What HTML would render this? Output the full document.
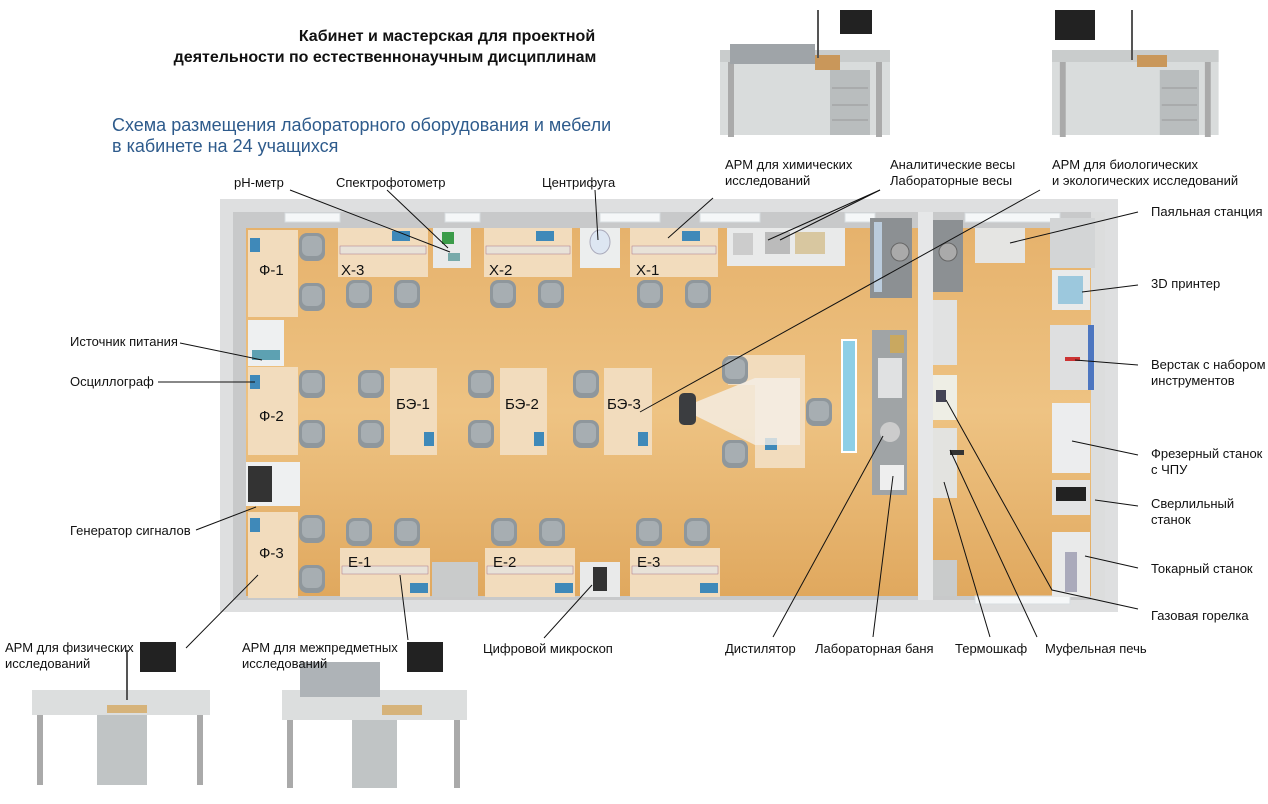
<!DOCTYPE html>
<html><head><meta charset="utf-8"><style>
body{margin:0;background:#fff;width:1268px;height:799px;overflow:hidden}
svg text{font-family:"Liberation Sans",sans-serif}
</style></head><body>
<svg width="1268" height="799" viewBox="0 0 1268 799" xmlns="http://www.w3.org/2000/svg">
<defs>
<linearGradient id="fl" x1="0" y1="0" x2="0" y2="1"><stop offset="0" stop-color="#e6b26c"/><stop offset="0.5" stop-color="#eec383"/><stop offset="1" stop-color="#e0a85e"/></linearGradient>
<g id="chair"><rect x="0" y="0" width="26" height="28" rx="8" fill="#8f979c"/><rect x="3" y="3" width="20" height="20" rx="6" fill="#a7aeb2"/></g>
<g id="desk"><rect x="0" y="0" width="170" height="85" fill="#d9dcdc"/><rect x="0" y="0" width="170" height="12" fill="#c9cccc"/><rect x="110" y="20" width="40" height="65" fill="#b9bdbe"/><line x1="112" y1="38" x2="148" y2="38" stroke="#999"/><line x1="112" y1="55" x2="148" y2="55" stroke="#999"/><line x1="112" y1="70" x2="148" y2="70" stroke="#999"/><rect x="8" y="12" width="6" height="75" fill="#aaa"/><rect x="156" y="12" width="6" height="75" fill="#aaa"/></g>
</defs>
<!-- titles -->
<text x="447" y="41" font-size="16" font-weight="bold" text-anchor="middle" fill="#111">Кабинет и мастерская для проектной</text>
<text x="385" y="62" font-size="16" font-weight="bold" text-anchor="middle" fill="#111">деятельности по естественнонаучным дисциплинам</text>
<text x="112" y="131" font-size="18" fill="#2e5b8c">Схема размещения лабораторного оборудования и мебели</text>
<text x="112" y="152" font-size="18" fill="#2e5b8c">в кабинете на 24 учащихся</text>

<!-- photos top -->
<g transform="translate(720,50)"><use href="#desk"/><rect x="10" y="-6" width="85" height="20" fill="#9fa4a8"/><rect x="95" y="5" width="25" height="15" fill="#c9975a"/><rect x="120" y="-40" width="32" height="24" fill="#222"/><line x1="98" y1="-40" x2="98" y2="8" stroke="#555" stroke-width="2"/></g>
<g transform="translate(1052,50)"><use href="#desk" transform="scale(0.98,1)"/><rect x="3" y="-40" width="40" height="30" fill="#222"/><rect x="85" y="5" width="30" height="12" fill="#c9975a"/><line x1="80" y1="-40" x2="80" y2="10" stroke="#555" stroke-width="2"/></g>
<g transform="translate(32,690)"><rect x="0" y="0" width="178" height="25" fill="#dcdede"/><rect x="65" y="25" width="50" height="70" fill="#c0c4c5"/><rect x="5" y="25" width="6" height="70" fill="#aaa"/><rect x="165" y="25" width="6" height="70" fill="#aaa"/><rect x="75" y="15" width="40" height="8" fill="#d6b37a"/><rect x="108" y="-48" width="36" height="30" fill="#222"/><line x1="95" y1="-40" x2="95" y2="10" stroke="#555" stroke-width="2"/></g>
<g transform="translate(282,690)"><rect x="0" y="0" width="185" height="30" fill="#dcdede"/><rect x="18" y="-28" width="80" height="35" fill="#aeb3b7"/><rect x="70" y="30" width="45" height="68" fill="#c0c4c5"/><rect x="5" y="30" width="6" height="68" fill="#aaa"/><rect x="172" y="30" width="6" height="68" fill="#aaa"/><rect x="125" y="-48" width="36" height="30" fill="#222"/><rect x="100" y="15" width="40" height="10" fill="#d6b37a"/></g>

<!-- room -->
<rect x="220" y="199" width="898" height="413" fill="#dedfe0"/>
<rect x="233" y="212" width="872" height="388" fill="#c8c9ca"/>
<rect x="246" y="228" width="672" height="368" fill="url(#fl)"/>
<rect x="933" y="228" width="158" height="368" fill="url(#fl)"/>
<rect x="918" y="212" width="15" height="388" fill="#e6e7e8"/>
<rect x="1091" y="212" width="14" height="388" fill="#dcdddd"/>
<!-- windows -->
<g fill="#f5f7f8" stroke="#d8dde0"><rect x="285" y="213" width="55" height="9"/><rect x="445" y="213" width="35" height="9"/><rect x="600" y="213" width="60" height="9"/><rect x="700" y="213" width="60" height="9"/><rect x="845" y="213" width="30" height="9"/><rect x="965" y="213" width="95" height="9"/><rect x="975" y="596" width="95" height="8"/></g>

<!-- desks -->
<g fill="#f2dcbd"><rect x="248" y="230" width="50" height="87"/><rect x="248" y="367" width="50" height="88"/><rect x="248" y="512" width="50" height="86"/>
<rect x="338" y="228" width="90" height="49"/><rect x="484" y="228" width="88" height="49"/><rect x="630" y="228" width="88" height="49"/>
<rect x="390" y="368" width="47" height="87"/><rect x="500" y="368" width="47" height="87"/><rect x="604" y="368" width="48" height="87"/>
<rect x="340" y="548" width="90" height="49"/><rect x="485" y="548" width="90" height="49"/><rect x="630" y="548" width="90" height="49"/>
<rect x="755" y="355" width="50" height="113"/><rect x="728" y="355" width="30" height="30"/></g>
<g fill="#e8e2d8" stroke="#a78" stroke-width="0.5"><rect x="340" y="246" width="86" height="8"/><rect x="486" y="246" width="84" height="8"/><rect x="632" y="246" width="84" height="8"/><rect x="342" y="566" width="86" height="8"/><rect x="487" y="566" width="86" height="8"/><rect x="632" y="566" width="86" height="8"/></g>
<!-- monitors -->
<g fill="#3f89b9"><rect x="250" y="238" width="10" height="14"/><rect x="250" y="375" width="10" height="14"/><rect x="250" y="518" width="10" height="14"/><rect x="392" y="231" width="18" height="10"/><rect x="536" y="231" width="18" height="10"/><rect x="682" y="231" width="18" height="10"/><rect x="424" y="432" width="10" height="14"/><rect x="534" y="432" width="10" height="14"/><rect x="638" y="432" width="10" height="14"/><rect x="410" y="583" width="18" height="10"/><rect x="555" y="583" width="18" height="10"/><rect x="700" y="583" width="18" height="10"/><rect x="765" y="438" width="12" height="12"/></g>
<!-- chairs -->
<g><use href="#chair" x="299" y="233"/><use href="#chair" x="299" y="283"/><use href="#chair" x="299" y="370"/><use href="#chair" x="299" y="420"/><use href="#chair" x="299" y="515"/><use href="#chair" x="299" y="565"/>
<use href="#chair" x="346" y="280"/><use href="#chair" x="394" y="280"/><use href="#chair" x="490" y="280"/><use href="#chair" x="538" y="280"/><use href="#chair" x="637" y="280"/><use href="#chair" x="685" y="280"/>
<use href="#chair" x="358" y="370"/><use href="#chair" x="358" y="420"/><use href="#chair" x="468" y="370"/><use href="#chair" x="468" y="420"/><use href="#chair" x="573" y="370"/><use href="#chair" x="573" y="420"/>
<use href="#chair" x="346" y="518"/><use href="#chair" x="394" y="518"/><use href="#chair" x="491" y="518"/><use href="#chair" x="539" y="518"/><use href="#chair" x="636" y="518"/><use href="#chair" x="684" y="518"/>
<use href="#chair" x="722" y="356"/><use href="#chair" x="722" y="440"/><use href="#chair" x="806" y="398"/></g>
<rect x="679" y="393" width="17" height="32" rx="5" fill="#3b3d40"/>
<polygon points="696,402 755,378 800,378 800,445 755,445 696,416" fill="#f4efe7" opacity="0.8"/>
<!-- equipment -->
<rect x="248" y="320" width="36" height="46" fill="#eef0f1"/><rect x="252" y="350" width="28" height="10" fill="#5da1b2"/>
<rect x="246" y="462" width="54" height="44" fill="#eef0f1"/><rect x="248" y="466" width="24" height="36" fill="#333"/>
<rect x="433" y="228" width="38" height="40" fill="#e8eaea"/><rect x="442" y="232" width="12" height="12" fill="#3b9c4a"/><rect x="448" y="253" width="12" height="8" fill="#7aa"/>
<rect x="580" y="228" width="40" height="40" fill="#eceeee"/><ellipse cx="600" cy="242" rx="10" ry="12" fill="#dde6f2" stroke="#aab"/>
<rect x="727" y="228" width="118" height="38" fill="#e9eaea"/><rect x="733" y="233" width="20" height="22" fill="#ccc"/><rect x="765" y="232" width="25" height="22" fill="#bbb"/><rect x="795" y="232" width="30" height="22" fill="#d8c7a0"/>
<rect x="432" y="562" width="46" height="35" fill="#c9cbcb"/>
<rect x="580" y="562" width="40" height="35" fill="#e9eaea"/><rect x="593" y="567" width="14" height="24" fill="#333"/>
<rect x="842" y="340" width="14" height="112" fill="#8ecfe6" stroke="#fff" stroke-width="2"/>
<rect x="870" y="218" width="42" height="80" fill="#8c9093"/><rect x="874" y="222" width="8" height="70" fill="#bcd"/><circle cx="900" cy="252" r="9" fill="#aaa" stroke="#666"/>
<rect x="872" y="330" width="35" height="165" fill="#a0a4a6"/><rect x="878" y="358" width="24" height="40" fill="#e0e1e2"/><circle cx="890" cy="432" r="10" fill="#ccc"/><rect x="880" y="465" width="24" height="25" fill="#eee"/><rect x="890" y="335" width="14" height="18" fill="#c9a860"/>
<rect x="933" y="220" width="30" height="72" fill="#8c9093"/><circle cx="948" cy="252" r="9" fill="#aaa" stroke="#666"/>
<rect x="933" y="300" width="24" height="65" fill="#e1e2e2"/><rect x="933" y="375" width="24" height="45" fill="#eeeee5"/><rect x="936" y="390" width="10" height="12" fill="#445"/>
<rect x="933" y="428" width="24" height="70" fill="#e3e3e0"/><rect x="950" y="450" width="14" height="5" fill="#333"/>
<rect x="933" y="560" width="24" height="36" fill="#c9cbcb"/>
<rect x="975" y="228" width="50" height="35" fill="#e5e5e3"/><rect x="1050" y="218" width="45" height="50" fill="#d3d5d6"/>
<rect x="1052" y="270" width="38" height="40" fill="#e9eaea"/><rect x="1058" y="276" width="25" height="28" fill="#9cc8dd"/>
<rect x="1050" y="325" width="45" height="65" fill="#dedfe0"/><rect x="1088" y="325" width="6" height="65" fill="#4d76c0"/><rect x="1065" y="357" width="15" height="4" fill="#c33"/>
<rect x="1052" y="403" width="38" height="70" fill="#ecedee"/><rect x="1052" y="480" width="38" height="35" fill="#e3e4e5"/><rect x="1056" y="487" width="30" height="14" fill="#222"/>
<rect x="1052" y="532" width="38" height="65" fill="#e9eaea"/><rect x="1065" y="552" width="12" height="40" fill="#aab"/>

<!-- desk labels -->
<g font-size="15" fill="#111"><text x="259" y="275">Ф-1</text><text x="259" y="421">Ф-2</text><text x="259" y="558">Ф-3</text>
<text x="341" y="275">Х-3</text><text x="489" y="275">Х-2</text><text x="636" y="275">Х-1</text>
<text x="396" y="409">БЭ-1</text><text x="505" y="409">БЭ-2</text><text x="607" y="409">БЭ-3</text>
<text x="348" y="567">Е-1</text><text x="493" y="567">Е-2</text><text x="637" y="567">Е-3</text></g>

<!-- leader lines -->
<g stroke="#111" stroke-width="1" fill="none">
<line x1="290" y1="190" x2="450" y2="252"/><line x1="387" y1="190" x2="448" y2="248"/><line x1="595" y1="190" x2="598" y2="240"/>
<line x1="713" y1="198" x2="668" y2="238"/><line x1="880" y1="190" x2="768" y2="240"/><line x1="880" y1="190" x2="780" y2="240"/><line x1="1040" y1="190" x2="640" y2="412"/>
<line x1="1138" y1="212" x2="1010" y2="243"/><line x1="1138" y1="285" x2="1082" y2="292"/><line x1="1138" y1="365" x2="1075" y2="360"/><line x1="1138" y1="455" x2="1072" y2="441"/><line x1="1138" y1="506" x2="1095" y2="500"/><line x1="1138" y1="568" x2="1085" y2="556"/><path d="M1138 609 L1052 590 L946 400"/>
<line x1="180" y1="343" x2="262" y2="360"/><line x1="158" y1="382" x2="255" y2="382"/><line x1="196" y1="530" x2="256" y2="507"/>
<line x1="186" y1="648" x2="258" y2="575"/><line x1="408" y1="640" x2="400" y2="575"/><line x1="544" y1="638" x2="592" y2="585"/>
<line x1="773" y1="637" x2="883" y2="436"/><line x1="873" y1="637" x2="893" y2="476"/><line x1="990" y1="637" x2="944" y2="482"/><line x1="1037" y1="637" x2="950" y2="450"/>
</g>

<!-- labels -->
<g font-size="13" fill="#111">
<text x="234" y="187">pH-метр</text><text x="336" y="187">Спектрофотометр</text><text x="542" y="187">Центрифуга</text>
<text x="725" y="169">АРМ для химических</text><text x="725" y="185">исследований</text>
<text x="890" y="169">Аналитические весы</text><text x="890" y="185">Лабораторные весы</text>
<text x="1052" y="169">АРМ для биологических</text><text x="1052" y="185">и экологических исследований</text>
<text x="1151" y="216">Паяльная станция</text><text x="1151" y="288">3D принтер</text>
<text x="1151" y="369">Верстак с набором</text><text x="1151" y="385">инструментов</text>
<text x="1151" y="458">Фрезерный станок</text><text x="1151" y="474">с ЧПУ</text>
<text x="1151" y="508">Сверлильный</text><text x="1151" y="524">станок</text>
<text x="1151" y="573">Токарный станок</text><text x="1151" y="620">Газовая горелка</text>
<text x="70" y="346">Источник питания</text><text x="70" y="386">Осциллограф</text><text x="70" y="535">Генератор сигналов</text>
<text x="5" y="652">АРМ для физических</text><text x="5" y="668">исследований</text>
<text x="242" y="652">АРМ для межпредметных</text><text x="242" y="668">исследований</text>
<text x="483" y="653">Цифровой микроскоп</text><text x="725" y="653">Дистилятор</text><text x="815" y="653">Лабораторная баня</text>
<text x="955" y="653">Термошкаф</text><text x="1045" y="653">Муфельная печь</text>
</g>
</svg>
</body></html>
